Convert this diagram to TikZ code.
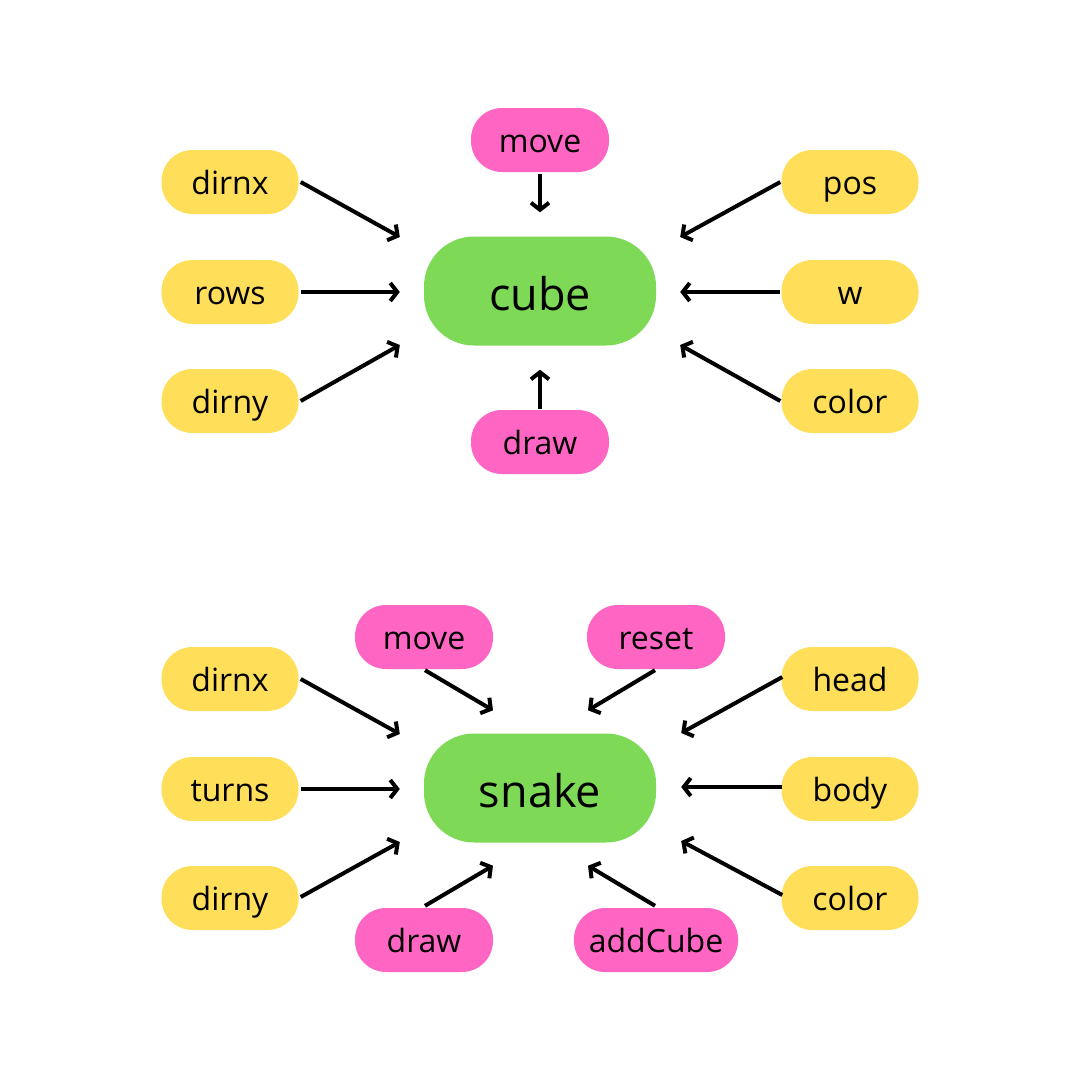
\documentclass[tikz,border=0pt]{standalone}
\usepackage{fontspec}
\setmainfont{Open Sans}
\usetikzlibrary{arrows.meta}
\definecolor{yel}{HTML}{FFDE59}
\definecolor{pnk}{HTML}{FF66C4}
\definecolor{grn}{HTML}{7ED957}
\tikzset{
  attr/.style={fill=yel, rounded corners=31pt, minimum width=137pt, minimum height=64pt, inner sep=0pt, text height=24pt, text depth=0pt, font=\fontsize{32}{38}\selectfont},
  meth/.style={fill=pnk, rounded corners=31pt, minimum width=138pt, minimum height=64pt, inner sep=0pt, text height=24pt, text depth=0pt, font=\fontsize{32}{38}\selectfont},
  cls/.style={fill=grn, rounded corners=50pt, minimum width=232pt, minimum height=109pt, inner sep=0pt, text height=38pt, text depth=0pt, font=\fontsize{45}{54}\selectfont},
  arr/.style={line width=4pt, -{Straight Barb[length=7pt,width=18pt,line width=4pt]}}
}
\begin{document}
\begin{tikzpicture}[x=1pt,y=-1pt]
\fill[white] (0,0) rectangle (1080,1080);
\useasboundingbox (0,0) rectangle (1080,1080);
% top
\node[cls] (cube) at (540,291) {cube};
\node[attr] (dirnx) at (230,182) {dirnx};
\node[attr] (rows) at (230,292) {rows};
\node[attr] (dirny) at (230,401) {dirny};
\node[meth] (move) at (540,140) {move};
\node[meth] (draw) at (540,442) {draw};
\node[attr] (pos) at (850,182) {pos};
\node[attr] (w) at (850,292) {w};
\node[attr] (color) at (850,401) {color};
\draw[arr] ([shift={(2,0)}]dirnx.east) -- ([shift={(-24,-54)}]cube.west);
\draw[arr] ([shift={(2,0)}]rows.east) -- ([shift={(-24,1)}]cube.west);
\draw[arr] ([shift={(2,0)}]dirny.east) -- ([shift={(-24,54)}]cube.west);
\draw[arr] ([shift={(0,2)}]move.south) -- ([shift={(0,-24)}]cube.north);
\draw[arr] ([shift={(0,-1)}]draw.north) -- ([shift={(0,24)}]cube.south);
\draw[arr] ([shift={(-1,0)}]pos.west) -- ([shift={(24,-54)}]cube.east);
\draw[arr] ([shift={(-1,0)}]w.west) -- ([shift={(24,1)}]cube.east);
\draw[arr] ([shift={(-1,0)}]color.west) -- ([shift={(24,54)}]cube.east);
% bottom
\node[cls] (snake) at (540,788) {snake};
\node[attr] (dirnx2) at (230,679) {dirnx};
\node[attr] (turns) at (230,789) {turns};
\node[attr] (dirny2) at (230,898) {dirny};
\node[meth] (move2) at (424,637) {move};
\node[meth] (reset) at (656,637) {reset};
\node[meth] (draw2) at (424,940) {draw};
\node[meth, minimum width=164pt] (addcube) at (656,940) {addCube};
\node[attr] (head) at (850,679) {head};
\node[attr] (body) at (850,789) {body};
\node[attr] (color2) at (850,898) {color};
\draw[arr] ([shift={(2,0)}]dirnx2.east) -- ([shift={(-24,-54)}]snake.west);
\draw[arr] ([shift={(2,0)}]turns.east) -- ([shift={(-24,1)}]snake.west);
\draw[arr] ([shift={(2,-1)}]dirny2.east) -- ([shift={(-24,54)}]snake.west);
\draw[arr] ([shift={(1,1)}]move2.south) -- ([shift={(-47,-23)}]snake.north);
\draw[arr] ([shift={(-1,1)}]reset.south) -- ([shift={(48,-23)}]snake.north);
\draw[arr] ([shift={(1,-2)}]draw2.north) -- ([shift={(-47,23)}]snake.south);
\draw[arr] ([shift={(-1,-2)}]addcube.north) -- ([shift={(48,23)}]snake.south);
\draw[arr] ([shift={(1,-2)}]head.west) -- ([shift={(25,-55)}]snake.east);
\draw[arr] ([shift={(1,-2)}]body.west) -- ([shift={(25,-1)}]snake.east);
\draw[arr] ([shift={(1,-3)}]color2.west) -- ([shift={(25,53)}]snake.east);
\end{tikzpicture}
\end{document}
